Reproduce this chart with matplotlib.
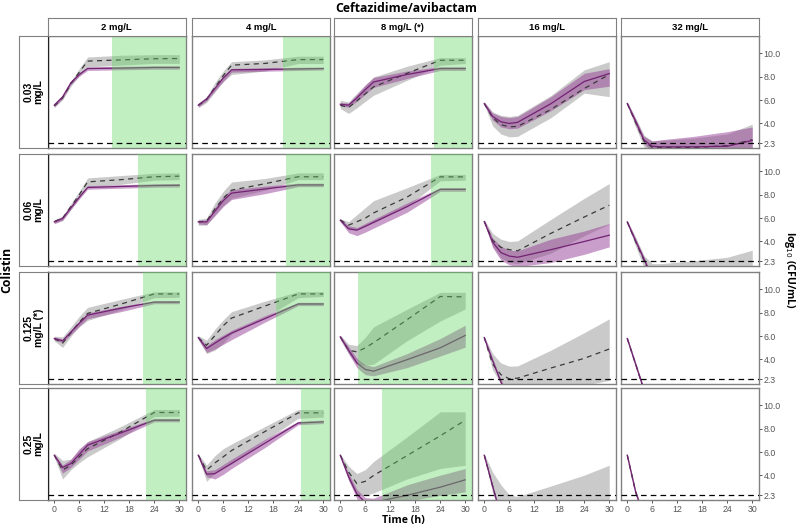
import matplotlib.pyplot as plt

# sampling times (h)
times = [0, 2, 4, 6, 8, 16, 24, 30]

caz_labels = ['2 mg/L', '4 mg/L', '8 mg/L (*)', '16 mg/L', '32 mg/L']
col_labels = ['0.03\nmg/L', '0.06\nmg/L', '0.125\nmg/L (*)', '0.25\nmg/L']
y_ticks = [2.3, 4.0, 6.0, 8.0, 10.0]
y_ticklabels = ['2.3', '4.0', '6.0', '8.0', '10.0']
x_ticks = [0, 6, 12, 18, 24, 30]
loq = 2.3

# start (h) of the green shaded interval in each panel, None = no shading
green_start = [
    [13.8, 20.4, 22.6, None, None],
    [20.2, 21.0, 21.8, None, None],
    [21.4, 18.6, 4.2, None, None],
    [22.1, 24.6, 9.9, None, None],
]

# purple: solid median line + ribbon  [row][col] -> values at `times`
purple_mid = [
    [[5.57, 6.28, 7.5, 8.2, 8.71, 8.75, 8.8, 8.8],
     [5.57, 6.1, 7.0, 7.9, 8.6, 8.63, 8.68, 8.71],
     [5.65, 5.57, 6.2, 6.9, 7.56, 8.2, 8.71, 8.71],
     [5.71, 4.6, 4.15, 4.0, 4.1, 5.7, 7.6, 8.28],
     [5.71, 4.2, 2.6, 2.05, 2.0, 2.0, 2.05, 2.55]],
    [[5.68, 5.97, 6.9, 7.8, 8.63, 8.72, 8.8, 8.82],
     [5.68, 5.68, 6.6, 7.5, 8.15, 8.5, 8.85, 8.85],
     [5.82, 5.1, 4.97, 5.3, 5.64, 6.98, 8.47, 8.47],
     [5.71, 3.95, 3.05, 2.75, 2.65, 3.3, 4.0, 4.54],
     [5.68, 4.06, 2.5, 0.9, 0.5, 0.5, 0.5, 0.5]],
    [[5.8, 5.6, 6.35, 7.1, 7.8, 8.4, 8.92, 8.92],
     [5.88, 4.94, 5.4, 5.85, 6.26, 7.5, 8.76, 8.76],
     [5.94, 4.8, 3.7, 3.15, 3.0, 3.98, 5.0, 6.06],
     [5.88, 3.9, 2.08, 0.5, 0.5, 0.5, 0.5, 0.5],
     [5.8, 3.6, 1.4, 0.5, 0.5, 0.5, 0.5, 0.5]],
    [[5.74, 4.69, 5.03, 5.8, 6.6, 7.65, 8.74, 8.74],
     [5.74, 4.11, 4.16, 4.6, 5.03, 6.77, 8.5, 8.6],
     [5.74, 3.9, 2.4, 1.7, 1.7, 2.3, 3.0, 3.63],
     [5.74, 3.1, 0.5, 0.5, 0.5, 0.5, 0.5, 0.5],
     [5.74, 2.6, 0.5, 0.5, 0.5, 0.5, 0.5, 0.5]],
]
purple_lo = [
    [[5.42, 6.13, 7.35, 8.05, 8.55, 8.6, 8.65, 8.65],
     [5.42, 5.95, 6.8, 7.6, 8.4, 8.48, 8.55, 8.58],
     [5.5, 5.4, 5.9, 6.5, 7.1, 7.85, 8.55, 8.55],
     [5.6, 4.3, 3.7, 3.55, 3.6, 5.1, 6.9, 7.2],
     [5.6, 3.9, 2.3, 1.5, 1.5, 1.5, 1.5, 1.5]],
    [[5.53, 5.82, 6.75, 7.65, 8.48, 8.57, 8.65, 8.67],
     [5.5, 5.45, 6.2, 7.0, 7.6, 8.1, 8.7, 8.7],
     [5.7, 4.75, 4.5, 4.8, 5.15, 6.5, 8.3, 8.3],
     [5.6, 3.5, 2.4, 2.0, 1.85, 2.2, 2.9, 3.54],
     [5.55, 3.85, 2.3, 0.7, 0.3, 0.3, 0.3, 0.3]],
    [[5.65, 5.45, 6.15, 6.85, 7.5, 8.1, 8.78, 8.78],
     [5.75, 4.6, 4.9, 5.3, 5.7, 7.2, 8.62, 8.62],
     [5.8, 4.5, 3.3, 2.7, 2.6, 3.3, 4.3, 5.06],
     [5.75, 3.7, 1.85, 0.3, 0.3, 0.3, 0.3, 0.3],
     [5.68, 3.45, 1.25, 0.3, 0.3, 0.3, 0.3, 0.3]],
    [[5.6, 4.2, 4.7, 5.4, 6.1, 7.3, 8.6, 8.6],
     [5.6, 3.9, 3.7, 4.1, 4.6, 6.4, 8.35, 8.45],
     [5.6, 3.6, 2.0, 1.4, 1.4, 1.8, 2.3, 2.6],
     [5.62, 2.95, 0.3, 0.3, 0.3, 0.3, 0.3, 0.3],
     [5.62, 2.45, 0.3, 0.3, 0.3, 0.3, 0.3, 0.3]],
]
purple_hi = [
    [[5.72, 6.43, 7.65, 8.35, 8.85, 8.9, 8.95, 8.95],
     [5.72, 6.25, 7.15, 8.1, 8.72, 8.78, 8.82, 8.84],
     [5.8, 5.75, 6.5, 7.3, 7.95, 8.5, 8.87, 8.87],
     [5.85, 4.9, 4.6, 4.5, 4.6, 6.3, 8.3, 8.7],
     [5.85, 4.4, 2.9, 2.5, 2.6, 2.9, 3.3, 3.7]],
    [[5.83, 6.12, 7.05, 7.95, 8.78, 8.87, 8.95, 8.97],
     [5.83, 5.85, 6.9, 7.9, 8.45, 8.75, 9.0, 9.0],
     [5.95, 5.35, 5.2, 5.55, 5.9, 7.3, 8.62, 8.62],
     [5.85, 4.3, 3.6, 3.25, 3.2, 4.2, 4.9, 5.54],
     [5.8, 4.25, 2.7, 1.1, 0.7, 0.7, 0.7, 0.7]],
    [[5.95, 5.75, 6.55, 7.3, 8.0, 8.55, 9.05, 9.05],
     [6.0, 5.2, 5.7, 6.1, 6.5, 7.75, 8.9, 8.9],
     [6.05, 5.1, 4.1, 3.55, 3.4, 4.5, 5.8, 6.94],
     [6.0, 4.1, 2.3, 0.7, 0.7, 0.7, 0.7, 0.7],
     [5.92, 3.75, 1.55, 0.7, 0.7, 0.7, 0.7, 0.7]],
    [[5.85, 4.9, 5.4, 6.3, 6.9, 7.9, 8.9, 8.9],
     [5.85, 4.4, 4.5, 4.95, 5.4, 7.1, 8.65, 8.75],
     [5.85, 4.2, 2.8, 2.1, 2.05, 3.2, 4.03, 4.6],
     [5.86, 3.25, 0.7, 0.7, 0.7, 0.7, 0.7, 0.7],
     [5.86, 2.75, 0.7, 0.7, 0.7, 0.7, 0.7, 0.7]],
]

# grey: dashed median line + ribbon
grey_mid = [
    [[5.5, 6.2, 7.4, 8.4, 9.35, 9.45, 9.55, 9.57],
     [5.55, 6.05, 7.1, 8.1, 9.0, 9.15, 9.48, 9.48],
     [5.57, 5.37, 5.95, 6.55, 7.14, 8.3, 9.42, 9.42],
     [5.71, 4.5, 3.9, 3.72, 3.75, 5.2, 7.0, 8.2],
     [5.71, 4.1, 2.5, 1.95, 1.95, 1.95, 2.1, 2.6]],
    [[5.7, 6.0, 7.0, 8.0, 9.11, 9.3, 9.55, 9.6],
     [5.68, 5.75, 6.8, 7.7, 8.4, 8.95, 9.55, 9.55],
     [5.85, 5.4, 5.7, 6.0, 6.45, 7.8, 9.54, 9.54],
     [5.71, 4.1, 3.5, 3.3, 3.2, 4.7, 6.1, 7.11],
     [5.68, 4.0, 2.4, 0.8, 0.5, 0.5, 0.5, 0.5]],
    [[5.8, 5.4, 6.3, 7.2, 7.95, 8.75, 9.62, 9.62],
     [5.88, 5.22, 6.05, 6.9, 7.55, 8.58, 9.62, 9.62],
     [5.94, 4.8, 4.65, 5.0, 5.44, 7.4, 9.4, 9.37],
     [5.88, 3.6, 2.7, 2.35, 2.4, 3.27, 4.1, 4.9],
     [5.8, 3.6, 1.4, 0.5, 0.5, 0.5, 0.5, 0.5]],
    [[5.74, 4.46, 4.9, 5.6, 6.3, 7.75, 9.4, 9.4],
     [5.74, 4.46, 5.08, 5.6, 6.14, 7.77, 9.37, 9.37],
     [5.74, 4.3, 3.3, 3.5, 4.0, 5.7, 7.4, 8.74],
     [5.74, 3.1, 0.5, 0.5, 0.5, 0.5, 0.5, 0.5],
     [5.74, 2.6, 0.5, 0.5, 0.5, 0.5, 0.5, 0.5]],
]
grey_lo = [
    [[5.35, 6.05, 7.2, 8.1, 8.85, 9.0, 9.15, 9.15],
     [5.35, 5.8, 6.7, 7.6, 8.2, 8.5, 9.14, 9.14],
     [5.28, 4.86, 5.35, 5.9, 6.42, 7.7, 9.0, 9.14],
     [5.6, 3.8, 3.1, 2.85, 2.9, 4.5, 6.6, 6.3],
     [5.55, 3.7, 2.0, 1.0, 1.0, 1.0, 1.0, 1.0]],
    [[5.55, 5.8, 6.75, 7.7, 8.7, 8.9, 9.25, 9.3],
     [5.4, 5.4, 6.3, 7.1, 7.7, 8.4, 9.3, 9.3],
     [5.7, 5.0, 5.0, 5.3, 5.6, 7.0, 9.2, 9.25],
     [5.6, 3.6, 2.6, 2.2, 2.1, 3.0, 4.5, 5.5],
     [5.55, 3.6, 1.8, 0.5, 0.5, 0.5, 0.5, 0.5]],
    [[5.6, 5.03, 6.0, 6.8, 7.35, 8.25, 9.3, 9.33],
     [5.7, 4.51, 4.8, 5.4, 6.2, 7.6, 9.3, 9.4],
     [5.7, 4.5, 3.6, 3.5, 3.6, 5.6, 7.3, 8.33],
     [5.75, 3.1, 1.9, 1.5, 1.5, 1.5, 1.8, 2.2],
     [5.65, 3.4, 1.2, 0.3, 0.3, 0.3, 0.3, 0.3]],
    [[5.6, 3.7, 4.5, 5.1, 5.6, 7.2, 9.05, 9.08],
     [5.6, 3.5, 4.2, 4.6, 5.0, 7.0, 8.9, 9.0],
     [5.6, 3.6, 2.3, 2.3, 2.5, 3.7, 4.6, 4.88],
     [5.6, 2.5, 0.5, 0.5, 0.5, 0.5, 0.5, 0.5],
     [5.6, 2.4, 0.3, 0.3, 0.3, 0.3, 0.3, 0.3]],
]
grey_hi = [
    [[5.7, 6.4, 7.6, 8.7, 9.7, 9.85, 9.9, 9.9],
     [5.75, 6.3, 7.5, 8.5, 9.3, 9.45, 9.77, 9.77],
     [6.0, 5.85, 6.6, 7.3, 7.99, 8.9, 9.65, 9.65],
     [5.85, 5.0, 4.7, 4.6, 4.7, 6.4, 8.6, 9.3],
     [5.85, 4.5, 3.0, 2.5, 2.55, 2.75, 3.1, 3.95]],
    [[5.85, 6.2, 7.25, 8.3, 9.45, 9.65, 9.85, 9.88],
     [5.9, 6.0, 7.3, 8.3, 9.1, 9.4, 9.88, 9.88],
     [5.95, 5.7, 6.3, 6.9, 7.5, 8.6, 9.75, 9.75],
     [5.85, 4.7, 4.2, 4.0, 4.05, 5.9, 7.7, 8.97],
     [5.8, 4.4, 2.8, 2.1, 2.1, 2.35, 2.65, 3.25]],
    [[6.0, 5.94, 6.8, 7.7, 8.47, 9.15, 9.8, 9.8],
     [6.05, 5.65, 6.6, 7.4, 8.1, 9.0, 9.82, 9.82],
     [6.1, 5.3, 5.2, 5.9, 6.8, 8.3, 9.76, 9.76],
     [6.0, 4.5, 3.7, 3.43, 3.45, 4.8, 6.3, 7.48],
     [5.95, 3.8, 1.6, 0.7, 0.7, 0.7, 0.7, 0.7]],
    [[5.9, 5.3, 5.4, 6.2, 6.9, 8.2, 9.66, 9.66],
     [5.85, 4.9, 5.7, 6.3, 6.7, 8.2, 9.66, 9.66],
     [5.85, 4.8, 4.17, 4.5, 5.2, 7.3, 9.46, 9.46],
     [5.85, 4.3, 3.2, 2.35, 2.2, 3.1, 4.03, 4.88],
     [5.88, 2.8, 0.7, 0.7, 0.7, 0.7, 0.7, 0.7]],
]

W, H = 796, 527
fig = plt.figure(figsize=(W / 100, H / 100), dpi=100)

col_x = [48, 192, 334, 478, 621]
col_w = 137.5
row_y = [36, 154, 272, 388]
row_h = 112
edge = '#808080'
tick_col = '#555555'


def box(x, y, w, h):
    return [x / W, 1 - (y + h) / H, w / W, h / H]


for r in range(4):
    for c in range(5):
        ax = fig.add_axes(box(col_x[c], row_y[r], col_w, row_h))
        ax.fill_between(times, grey_lo[r][c], grey_hi[r][c], color='#b4b4b4',
                        alpha=0.7, lw=0, zorder=1)
        ax.fill_between(times, purple_lo[r][c], purple_hi[r][c], color='#963f96',
                        alpha=0.5, lw=0, zorder=2)
        ax.plot(times, grey_mid[r][c], color='#3a3a3a', lw=0.9,
                dashes=(4, 3.5), zorder=3)
        ax.plot(times, purple_mid[r][c], color='#722272', lw=0.9, zorder=4)
        if green_start[r][c] is not None:
            ax.axvspan(green_start[r][c], 40, color='#5fd75f', alpha=0.38,
                       lw=0, zorder=5)
        ax.axhline(loq, color='black', lw=0.9, dashes=(4.5, 3.3), zorder=6)
        ax.set_xlim(-1.5, 31.5)
        ax.set_ylim(1.9, 11.5)
        for s in ax.spines.values():
            s.set_color(edge)
            s.set_linewidth(1.0)
        if c == 0:
            ax.spines['left'].set_color('#222222')
        ax.set_xticks(x_ticks if r == 3 else [])
        ax.set_yticks(y_ticks if c == 4 else [])
        if r == 3:
            ax.set_xticklabels([str(t) for t in x_ticks])
        if c == 4:
            ax.yaxis.tick_right()
            ax.set_yticks(y_ticks)
            ax.set_yticklabels(y_ticklabels)
        ax.tick_params(length=2.5, width=0.7, color=tick_col, labelcolor=tick_col,
                       labelsize=6.3, pad=1.0)
        for lab in ax.get_xticklabels() + ax.get_yticklabels():
            lab.set_family('Liberation Sans')

# top strips
for c in range(5):
    sx = fig.add_axes(box(col_x[c], 18, col_w, 18))
    sx.set_xticks([])
    sx.set_yticks([])
    for s in sx.spines.values():
        s.set_color(edge)
    sx.text(0.5, 0.5, caz_labels[c], ha='center', va='center', fontsize=6.8,
            fontweight='bold', family='Liberation Sans', transform=sx.transAxes)

# left strips
for r in range(4):
    sy = fig.add_axes(box(19, row_y[r], 29, row_h))
    sy.set_xticks([])
    sy.set_yticks([])
    for s in sy.spines.values():
        s.set_color(edge)
    sy.spines['right'].set_color('#222222')
    sy.text(0.5, 0.5, col_labels[r], ha='center', va='center', rotation=90,
            fontsize=7.5, fontweight='bold', family='Liberation Sans',
            linespacing=1.0, transform=sy.transAxes)

fig.text(406 / W, 1 - 8 / H, 'Ceftazidime/avibactam', ha='center', va='center',
         fontsize=8.8, fontweight='bold', family='Open Sans')
fig.text(7 / W, 1 - 270 / H, 'Colistin', ha='center', va='center', rotation=90,
         fontsize=8.8, fontweight='bold', family='Open Sans')
fig.text(403 / W, 1 - 520.5 / H, 'Time (h)', ha='center', va='center',
         fontsize=7.6, fontweight='bold', family='Open Sans')
fig.text(790 / W, 1 - 270 / H, r'log$_{10}$ (CFU/mL)', ha='center', va='center',
         rotation=270, fontsize=7.6, fontweight='bold', family='Open Sans')

fig.savefig('out.png', dpi=100)
